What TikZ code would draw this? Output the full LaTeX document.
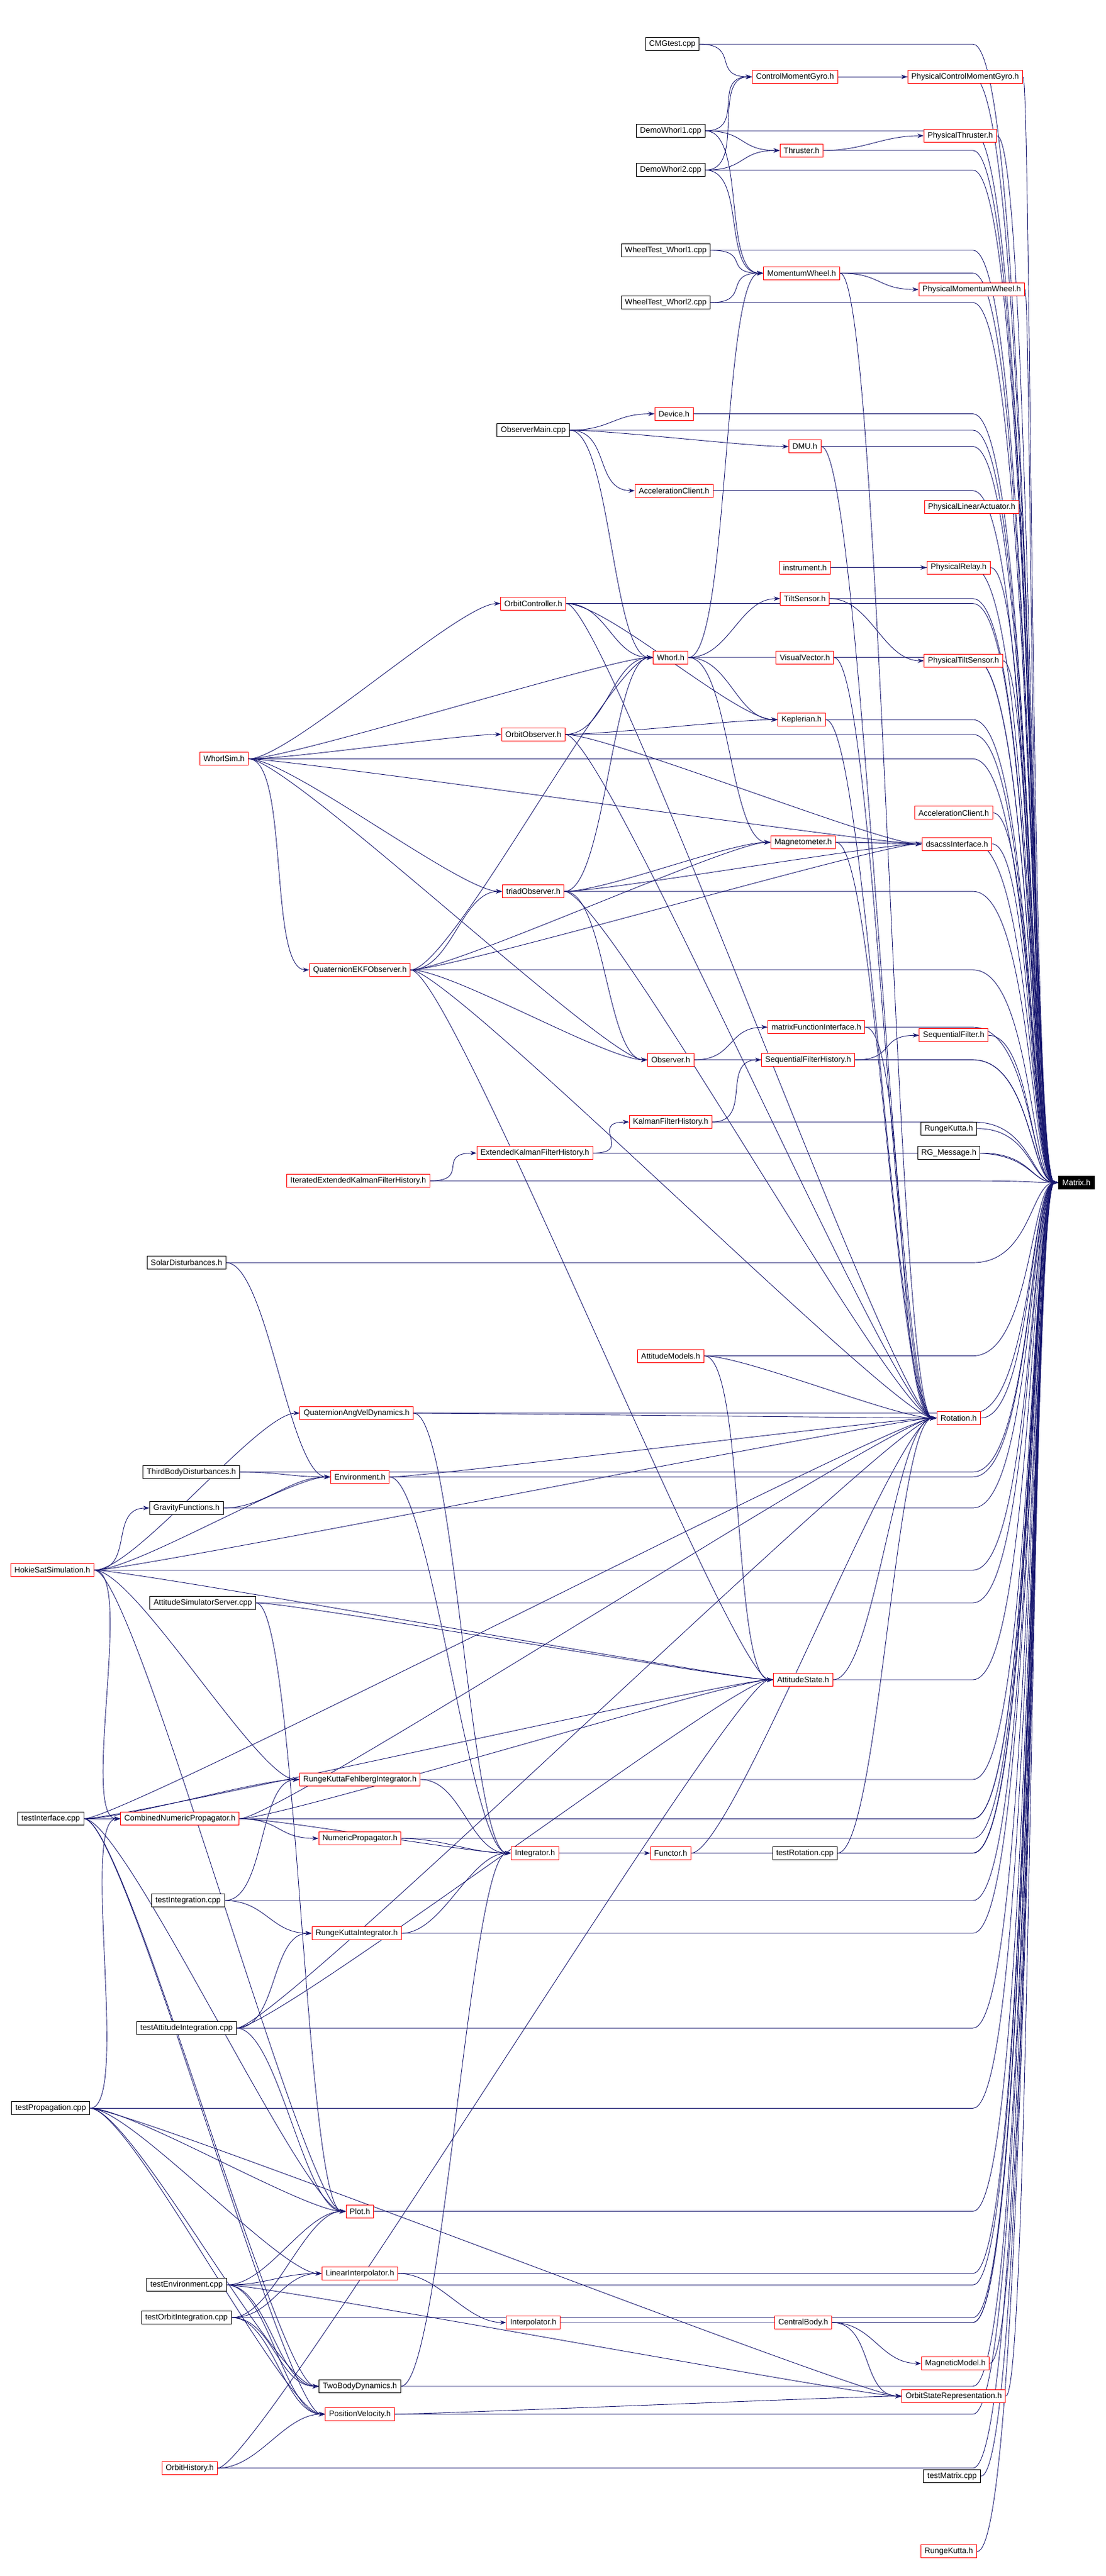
\documentclass[tikz,border=0pt]{standalone}
\usepackage{fontspec}
\setmainfont{Liberation Sans}
\usetikzlibrary{arrows.meta,calc,backgrounds}
\definecolor{edgeblue}{HTML}{191970}
\tikzset{
  hdr/.style={draw=red,fill=white,line width=0.5pt,inner xsep=3pt,inner ysep=0pt,minimum height=10.5pt,font=\fontsize{6.4}{7}\selectfont},
  src/.style={hdr,draw=black},
  root/.style={hdr,draw=black,fill=black,text=white},
  dep/.style={edgeblue,line width=0.45pt,-{Stealth[length=5pt,width=3.5pt]}}
}
\begin{document}
\begin{tikzpicture}[x=1.32pt,y=-1.32pt]
\useasboundingbox (0,0) rectangle (676,1575);

% top: actuators
\node[src] (cmgtest) at (411,27) {CMGtest.cpp};
\node[hdr] (cmg) at (486,47) {ControlMomentGyro.h};
\node[hdr] (pcmg) at (590,47) {PhysicalControlMomentGyro.h};
\node[src] (dw1) at (410,80) {DemoWhorl1.cpp};
\node[hdr] (thr) at (490,92) {Thruster.h};
\node[hdr] (pthr) at (587,83) {PhysicalThruster.h};
\node[src] (dw2) at (410,104) {DemoWhorl2.cpp};
\node[src] (wt1) at (407,153) {WheelTest\_Whorl1.cpp};
\node[hdr] (mw) at (490,167) {MomentumWheel.h};
\node[hdr] (pmw) at (594,177) {PhysicalMomentumWheel.h};
\node[src] (wt2) at (407,185) {WheelTest\_Whorl2.cpp};

% observers and sensors
\node[src] (obsmain) at (326,263) {ObserverMain.cpp};
\node[hdr] (dev) at (412,253) {Device.h};
\node[hdr] (dmu) at (492,273) {DMU.h};
\node[hdr] (acc) at (412,300) {AccelerationClient.h};
\node[hdr] (plin) at (594,310) {PhysicalLinearActuator.h};
\node[hdr] (instr) at (492,347) {instrument.h};
\node[hdr] (prel) at (586,347) {PhysicalRelay.h};
\node[hdr] (tilt) at (492,366) {TiltSensor.h};
\node[hdr] (octrl) at (326,369) {OrbitController.h};
\node[hdr] (whorl) at (410,402) {Whorl.h};
\node[hdr] (vvec) at (492,402) {VisualVector.h};
\node[hdr] (ptilt) at (589,404) {PhysicalTiltSensor.h};
\node[hdr] (wsim) at (137,464) {WhorlSim.h};
\node[hdr] (oobs) at (326,449) {OrbitObserver.h};
\node[hdr] (kep) at (490,440) {Keplerian.h};
\node[hdr] (acc2) at (583,497) {AccelerationClient.h};
\node[hdr] (mag) at (491,515) {Magnetometer.h};
\node[hdr] (dsacss) at (585,516) {dsacssInterface.h};
\node[hdr] (triad) at (326,545) {triadObserver.h};
\node[hdr] (qekf) at (220,593) {QuaternionEKFObserver.h};
\node[hdr] (mfi) at (499,628) {matrixFunctionInterface.h};
\node[hdr] (sf) at (583,633) {SequentialFilter.h};
\node[hdr] (obs) at (410,648) {Observer.h};
\node[hdr] (sfh) at (494,648) {SequentialFilterHistory.h};
\node[hdr] (kfh) at (410,686) {KalmanFilterHistory.h};
\node[src] (rk1) at (580,690) {RungeKutta.h};
\node[root] (matrix) at (658,723) {Matrix.h};
\node[hdr] (ekfh) at (327,705) {ExtendedKalmanFilterHistory.h};
\node[src] (rgm) at (580,705) {RG\_Message.h};
\node[hdr] (iekfh) at (219,722) {IteratedExtendedKalmanFilterHistory.h};

% simulation and dynamics
\node[src] (solar) at (114,772) {SolarDisturbances.h};
\node[hdr] (attmod) at (410,829) {AttitudeModels.h};
\node[hdr] (qavd) at (218,864) {QuaternionAngVelDynamics.h};
\node[hdr] (rot) at (586,867) {Rotation.h};
\node[src] (third) at (117,900) {ThirdBodyDisturbances.h};
\node[hdr] (env) at (220,903) {Environment.h};
\node[src] (grav) at (114,922) {GravityFunctions.h};
\node[hdr] (hokie) at (32,960) {HokieSatSimulation.h};
\node[src] (ass) at (124,980) {AttitudeSimulatorServer.cpp};
\node[hdr] (att) at (491,1027) {AttitudeState.h};
\node[hdr] (rkf) at (220,1088) {RungeKuttaFehlbergIntegrator.h};
\node[src] (tint) at (31,1112) {testInterface.cpp};
\node[hdr] (cnp) at (110,1112) {CombinedNumericPropagator.h};
\node[hdr] (np) at (220,1124) {NumericPropagator.h};
\node[hdr] (integ) at (327,1133) {Integrator.h};
\node[hdr] (func) at (410,1133) {Functor.h};
\node[src] (trot) at (492,1133) {testRotation.cpp};
\node[src] (tinteg) at (115,1162) {testIntegration.cpp};
\node[hdr] (rki) at (218,1182) {RungeKuttaIntegrator.h};
\node[src] (tattint) at (114,1240) {testAttitudeIntegration.cpp};
\node[src] (tprop) at (31,1289) {testPropagation.cpp};
\node[hdr] (plot) at (220,1352) {Plot.h};
\node[src] (tenv) at (114,1397) {testEnvironment.cpp};
\node[hdr] (lin) at (220,1390) {LinearInterpolator.h};
\node[hdr] (interp) at (326,1420) {Interpolator.h};
\node[hdr] (cb) at (491,1420) {CentralBody.h};
\node[src] (torb) at (114,1417) {testOrbitIntegration.cpp};
\node[hdr] (magm) at (584,1445) {MagneticModel.h};
\node[src] (tbd) at (220,1459) {TwoBodyDynamics.h};
\node[hdr] (osr) at (583,1465) {OrbitStateRepresentation.h};
\node[hdr] (pv) at (220,1476) {PositionVelocity.h};
\node[hdr] (ohist) at (116,1509) {OrbitHistory.h};
\node[src] (tmat) at (582,1514) {testMatrix.cpp};
\node[hdr] (rk2) at (580,1560) {RungeKutta.h};

% bend point in front of Matrix.h
\coordinate (mbend) at (630,723);

\begin{scope}[on background layer]
% everything that includes Matrix.h
\foreach \a in {cmgtest,cmg,pcmg,dw1,dw2,thr,pthr,wt1,wt2,mw,pmw,wsim,obsmain,dev,dmu,acc,plin,
  instr,prel,tilt,octrl,whorl,vvec,ptilt,oobs,kep,acc2,mag,dsacss,triad,qekf,mfi,sf,obs,sfh,kfh,
  rk1,ekfh,rgm,iekfh,solar,attmod,qavd,rot,third,env,grav,hokie,ass,att,rkf,tint,cnp,np,integ,
  func,trot,tinteg,rki,tattint,tprop,plot,tenv,lin,interp,cb,torb,magm,tbd,osr,pv,ohist,tmat,rk2}
  \draw[dep] let \p1=(\a.east), \n1={max(\x1,785pt)} in
    (\p1) -- (\n1,\y1) .. controls (832pt,\y1) and (mbend) .. (matrix.west);

% other includes
\foreach \a/\b in {cmgtest/cmg,cmg/pcmg,dw1/cmg,dw1/thr,dw1/mw,dw2/cmg,dw2/thr,dw2/mw,thr/pthr,
  wt1/mw,wt2/mw,mw/pmw,mw/rot,wsim/octrl,wsim/whorl,wsim/oobs,wsim/triad,wsim/qekf,wsim/obs,
  wsim/dsacss,obsmain/dev,obsmain/dmu,obsmain/acc,obsmain/whorl,dmu/rot,instr/prel,tilt/ptilt,
  whorl/tilt,whorl/kep,whorl/mag,whorl/mw,octrl/whorl,octrl/kep,octrl/rot,vvec/rot,kep/rot,
  oobs/whorl,oobs/kep,oobs/dsacss,oobs/rot,mag/dsacss,mag/rot,triad/whorl,triad/mag,triad/dsacss,
  triad/obs,triad/rot,qekf/whorl,qekf/triad,qekf/mag,qekf/dsacss,qekf/obs,qekf/rot,qekf/att,
  obs/mfi,mfi/rot,sfh/sf,kfh/sfh,ekfh/kfh,iekfh/ekfh,solar/env,hokie/qavd,hokie/env,hokie/grav,
  hokie/att,hokie/rkf,hokie/cnp,hokie/plot,hokie/rot,attmod/rot,attmod/att,qavd/rot,qavd/integ,
  third/env,env/rot,env/integ,grav/env,ass/att,ass/plot,att/rot,rkf/integ,tint/cnp,tint/rkf,
  tint/att,tint/plot,tint/tbd,tint/pv,tint/rot,cnp/np,cnp/integ,cnp/rot,cnp/att,np/integ,
  integ/func,func/rot,trot/rot,tinteg/rkf,tinteg/rki,rki/integ,tattint/rki,tattint/plot,
  tattint/att,tattint/rot,tprop/cnp,tprop/plot,tprop/tbd,tprop/pv,tprop/osr,tprop/lin,tenv/plot,
  tenv/lin,tenv/tbd,tenv/pv,tenv/osr,lin/interp,torb/plot,torb/lin,torb/tbd,torb/pv,cb/magm,
  cb/osr,tbd/integ,pv/osr,ohist/pv,ohist/att}
  \draw[dep] (\a.east) .. controls +(25,0) and +(-25,0) .. (\b.west);
\end{scope}
\end{tikzpicture}
\end{document}
